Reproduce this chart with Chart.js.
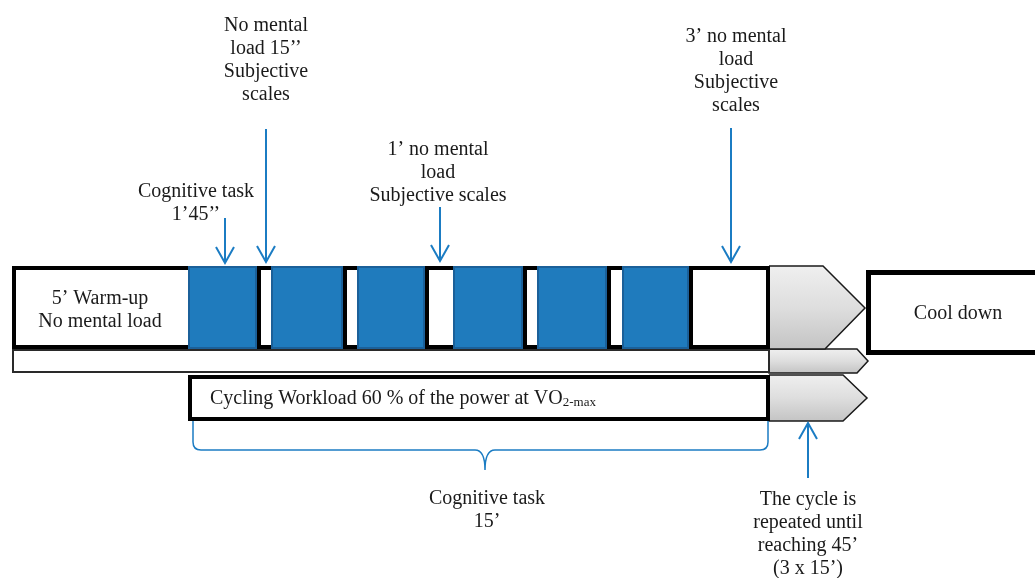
<!DOCTYPE html>
<html>
<head>
<meta charset="utf-8">
<script src="https://cdn.jsdelivr.net/npm/chart.js@4.4.0/dist/chart.umd.min.js"></script>
<style>
html, body { margin: 0; padding: 0; background: #fff; }
canvas { display: block; }
</style>
</head>
<body>
<canvas id="c" width="1035" height="578"></canvas>
<script>
// timeline of one 15' cycle, in schematic units (x axis 0..1035, y axis 0..578)
const warmUp    = [12, 188];
const taskStart = [188, 271, 357, 453, 537, 622];
const taskEnd   = [257, 343, 425, 523, 607, 689];
const finalRest = [689, 770];
const workload  = [188, 770];
const baseline  = [12, 770];
const coolDown  = [866, 1045];

// chevrons pointing to the cool down / next cycle
const chevronX  = [[769, 823, 865, 825, 769, 769], [769, 857, 868, 857, 769, 769], [769, 843, 867, 843, 769, 769]];
const chevronY  = [[266, 266, 308, 349, 349, 266], [349, 349, 361, 373, 373, 349], [375, 375, 398, 421, 421, 375]];

// blue arrows
const arrowX    = [225, 266, 440, 731, 808];
const arrowFrom = [218, 129, 207, 128, 478];
const arrowTo   = [263, 262, 261, 262, 423];

// labels
const labelText = [
  ['Cognitive task', '1’45’’'],
  ['No mental', 'load 15’’', 'Subjective', 'scales'],
  ['1’ no mental', 'load', 'Subjective scales'],
  ['3’ no mental', 'load', 'Subjective', 'scales'],
  ['5’ Warm-up', 'No mental load'],
  ['Cool down'],
  ['Cognitive task', '15’'],
  ['The cycle is', 'repeated until', 'reaching 45’', '(3 x 15’)']
];
const labelX = [196, 266, 438, 736, 100, 958, 487, 808];
const labelY = [192, 26, 150, 37, 299, 314, 499, 500];

const BLUE = '#1f7bbd';
const ARROW = '#1b7cc3';
const INK = '#1a1a1a';
const FONT = '20px "Liberation Serif", "Times New Roman", serif';

const MAIN_Y = 307.5, THIN_Y = 361, CYCLE_Y = 398, COOL_Y = 312.5;

function box(data, y, thick, fill, border, bw, order) {
  return {
    type: 'bar', indexAxis: 'y', grouped: false, order: order,
    data: data.map(r => ({ x: r, y: y })),
    backgroundColor: fill, borderColor: border, borderWidth: bw,
    borderSkipped: false, barThickness: thick, inflateAmount: 0
  };
}

const rests = taskEnd.slice(0, -1).map((e, i) => [e, taskStart[i + 1] + 4]);
rests.push(finalRest);

const datasets = [
  box(taskStart.map((s, i) => [s, taskEnd[i]]), MAIN_Y, 83, BLUE, '#1b6099', 2, 1),
  box(rests, MAIN_Y, 83, '#ffffff', '#000000', 4, 2),
  box([[warmUp[0], warmUp[1] + 4]], MAIN_Y, 83, '#ffffff', '#000000', 4, 2),
  box([baseline], THIN_Y, 24, '#ffffff', '#2a2a2a', 2, 3),
  box([workload], CYCLE_Y, 46, '#ffffff', '#000000', 4, 3),
  box([coolDown], COOL_Y, 85, '#ffffff', '#000000', 5, 3)
];

chevronX.forEach((xs, k) => {
  const ys = chevronY[k];
  const top = Math.min(...ys), bottom = Math.max(...ys);
  datasets.push({
    type: 'line', order: 4,
    data: xs.map((x, i) => ({ x: x, y: ys[i] })),
    borderColor: '#1a1a1a', borderWidth: 1.5, borderJoinStyle: 'miter',
    pointRadius: 0, tension: 0, fill: 'shape',
    backgroundColor: (c) => {
      const ch = c.chart, y = ch.scales.y;
      if (!y || !ch.chartArea) return '#dddddd';
      const y0 = y.getPixelForValue(top), y1 = y.getPixelForValue(bottom);
      if (!isFinite(y0) || !isFinite(y1)) return '#dddddd';
      const g = ch.ctx.createLinearGradient(0, y0, 0, y1);
      g.addColorStop(0, '#efefef');
      g.addColorStop(0.5, '#dedede');
      g.addColorStop(1, '#c4c4c4');
      return g;
    }
  });
});

arrowX.forEach((x, i) => {
  datasets.push({
    type: 'line', order: 0,
    data: [{ x: x, y: arrowFrom[i] }, { x: x, y: arrowTo[i] }],
    borderColor: ARROW, borderWidth: 2, pointRadius: 0, fill: false
  });
});

const decor = {
  id: 'decor',
  afterDatasetsDraw(chart) {
    const { ctx } = chart;
    const sx = chart.scales.x, sy = chart.scales.y;
    const px = v => sx.getPixelForValue(v), py = v => sy.getPixelForValue(v);
    ctx.save();

    // arrow heads
    ctx.strokeStyle = ARROW;
    ctx.lineWidth = 2;
    arrowX.forEach((x, i) => {
      const dir = arrowTo[i] > arrowFrom[i] ? 1 : -1;
      const tx = px(x), ty = py(arrowTo[i]);
      ctx.beginPath();
      ctx.moveTo(tx - 9, ty - dir * 16);
      ctx.lineTo(tx, ty);
      ctx.lineTo(tx + 9, ty - dir * 16);
      ctx.stroke();
    });

    // brace under the cycling workload
    const L = px(workload[0] + 5), R = px(workload[1] - 2), C = px(485);
    const T = py(421), M = py(450), tip = py(470);
    ctx.lineWidth = 1.5;
    ctx.beginPath();
    ctx.moveTo(L, T);
    ctx.lineTo(L, M - 8);
    ctx.quadraticCurveTo(L, M, L + 8, M);
    ctx.lineTo(C - 10, M);
    ctx.quadraticCurveTo(C, M, C, tip);
    ctx.quadraticCurveTo(C, M, C + 10, M);
    ctx.lineTo(R - 8, M);
    ctx.quadraticCurveTo(R, M, R, M - 8);
    ctx.lineTo(R, T);
    ctx.stroke();

    // labels
    ctx.fillStyle = INK;
    ctx.font = FONT;
    ctx.textAlign = 'center';
    ctx.textBaseline = 'middle';
    labelText.forEach((lines, i) => {
      lines.forEach((t, j) => ctx.fillText(t, px(labelX[i]), py(labelY[i] + j * 23)));
    });

    const main = 'Cycling Workload 60 % of the power at VO';
    ctx.textAlign = 'left';
    ctx.fillText(main, px(210), py(399));
    const w = ctx.measureText(main).width;
    ctx.font = '13px "Liberation Serif", "Times New Roman", serif';
    ctx.fillText('2-max', px(210) + w, py(403));
    ctx.restore();
  }
};

new Chart(document.getElementById('c'), {
  type: 'bar',
  data: { datasets },
  options: {
    responsive: false,
    animation: false,
    devicePixelRatio: 1,
    events: [],
    layout: { padding: 0 },
    plugins: { legend: { display: false }, tooltip: { enabled: false } },
    scales: {
      x: { type: 'linear', min: 0, max: 1035, display: false, offset: false },
      y: { type: 'linear', min: 0, max: 578, reverse: true, display: false, offset: false }
    }
  },
  plugins: [decor]
});
</script>
</body>
</html>
